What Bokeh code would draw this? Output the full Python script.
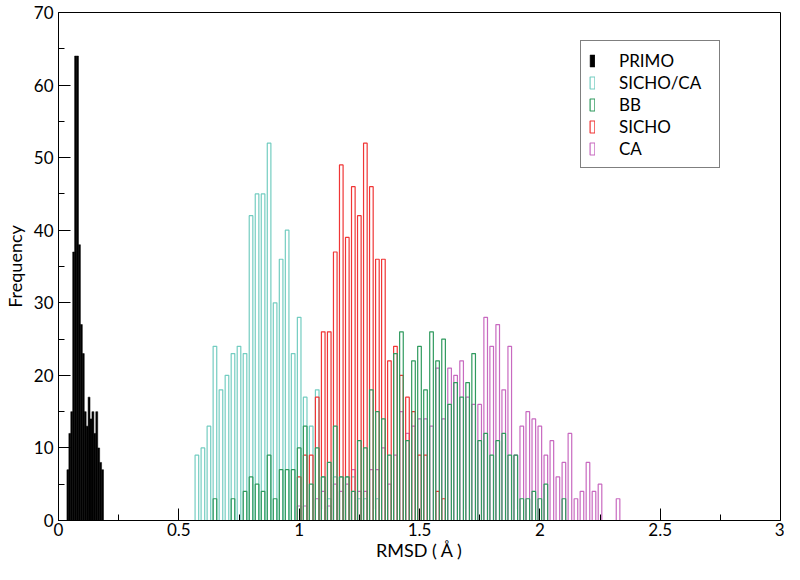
from bokeh.plotting import figure
from bokeh.models import Range1d, Legend, LegendItem, FixedTicker, ColumnDataSource
from bokeh.embed import file_html
from bokeh.resources import INLINE

# ---- data ----
# common bin grid for SICHO/CA, BB, SICHO, CA histograms
bin_start = 0.575   # centre of first bin (RMSD, Angstrom)
bin_width = 0.025

sicho_ca = [9, 10, 13, 24, 18, 20, 23, 24, 23, 42, 45, 45, 52, 30, 36, 40, 23, 28, 17, 13,
            18, 6, 3, 6, 6, 6, 6, 3, 3, 0, 3]
bb = [0, 0, 0, 3, 0, 0, 3, 0, 4, 6, 5, 4, 9, 3, 7, 7, 7, 10, 13, 5,
      10, 6, 8, 13, 6, 6, 4, 11, 10, 18, 15, 14, 9, 23, 26, 11, 22, 24, 18, 26,
      22, 25, 16, 19, 17, 19, 23, 11, 12, 9, 11, 12, 9, 9, 3, 3, 4, 3, 5, 0,
      0, 3]
sicho = [0, 0, 0, 0, 0, 0, 0, 0, 0, 0, 0, 0, 0, 0, 0, 0, 0, 6, 9, 9,
         17, 26, 26, 37, 49, 39, 46, 42, 52, 46, 36, 36, 22, 24, 20, 17, 15, 9, 9, 0,
         4, 3]
ca = [0, 0, 0, 0, 0, 0, 0, 0, 0, 0, 0, 0, 0, 0, 0, 0, 0, 2, 2, 0,
      3, 4, 2, 5, 4, 5, 7, 4, 4, 7, 7, 10, 5, 9, 15, 12, 13, 14, 14, 13,
      21, 14, 21, 20, 22, 17, 16, 16, 28, 24, 27, 18, 24, 9, 13, 15, 14, 13, 9, 11,
      6, 8, 12, 3, 4, 8, 4, 5, 0, 0, 3]

# PRIMO uses its own, finer bins
primo_start = 0.039
primo_width = 0.008
primo = [7, 12, 15, 37, 64, 64, 38, 27, 23, 15, 13, 17, 14, 15, 12, 15, 10, 8, 7]

names = ["PRIMO", "SICHO/CA", "BB", "SICHO", "CA"]
colors = {"PRIMO": "black", "SICHO/CA": "#74cdc1", "BB": "#2f9a5e",
          "SICHO": "#f03535", "CA": "#c86ac0"}

x_ticks = [0, 0.5, 1, 1.5, 2, 2.5, 3]
y_ticks = [0, 10, 20, 30, 40, 50, 60, 70]

FONT = "Lato"

p = figure(width=784, height=564, x_range=Range1d(0, 3), y_range=Range1d(0, 70),
           output_backend="svg", toolbar_location=None,
           min_border_left=56, min_border_right=4, min_border_top=12, min_border_bottom=44)
p.xgrid.visible = False
p.ygrid.visible = False
p.outline_line_color = "black"
p.outline_line_width = 1
p.background_fill_color = "white"
p.border_fill_color = "white"


def hist_source(start, width, counts):
    xs, ys = [], []
    for i, c in enumerate(counts):
        if c > 0:
            xs.append(start + i * width)
            ys.append(c)
    return ColumnDataSource(dict(x=xs, top=ys))


renderers = {}
# draw order: CA, SICHO/CA, SICHO, BB, PRIMO
bar_w = 0.015
lw = 1.2
renderers["CA"] = p.vbar(x="x", top="top", bottom=0, width=bar_w,
                         source=hist_source(bin_start, bin_width, ca),
                         fill_alpha=0, line_color=colors["CA"], line_width=lw)
renderers["SICHO/CA"] = p.vbar(x="x", top="top", bottom=0, width=bar_w,
                               source=hist_source(bin_start, bin_width, sicho_ca),
                               fill_alpha=0, line_color=colors["SICHO/CA"], line_width=lw)
renderers["SICHO"] = p.vbar(x="x", top="top", bottom=0, width=bar_w,
                            source=hist_source(bin_start, bin_width, sicho),
                            fill_alpha=0, line_color=colors["SICHO"], line_width=lw)
renderers["BB"] = p.vbar(x="x", top="top", bottom=0, width=bar_w,
                         source=hist_source(bin_start, bin_width, bb),
                         fill_alpha=0, line_color=colors["BB"], line_width=lw)
renderers["PRIMO"] = p.vbar(x="x", top="top", bottom=0, width=primo_width,
                            source=hist_source(primo_start, primo_width, primo),
                            fill_color="black", line_color="black", line_width=0.5)

# axes
for ax in (p.xaxis[0], p.yaxis[0]):
    ax.axis_line_color = "black"
    ax.major_tick_line_color = "black"
    ax.minor_tick_line_color = "black"
    ax.major_tick_in = 12
    ax.major_tick_out = 0
    ax.minor_tick_in = 6
    ax.minor_tick_out = 0
    ax.major_label_text_font = FONT
    ax.major_label_text_font_size = "17px"
    ax.major_label_text_color = "black"
    ax.axis_label_text_font = FONT
    ax.axis_label_text_font_size = "18px"
    ax.axis_label_text_font_style = "normal"
    ax.axis_label_text_color = "black"
    ax.major_label_standoff = 2
    ax.axis_label_standoff = 0

p.yaxis.major_label_standoff = 5
p.yaxis.axis_label_standoff = 5
p.xaxis.ticker = FixedTicker(ticks=x_ticks, minor_ticks=[0.25, 0.75, 1.25, 1.75, 2.25, 2.75])
p.yaxis.ticker = FixedTicker(ticks=y_ticks, minor_ticks=[5, 15, 25, 35, 45, 55, 65])
p.xaxis.major_label_overrides = {t: f"{t:g}" for t in x_ticks}
p.xaxis.axis_label = "RMSD ( Å )"
p.yaxis.axis_label = "Frequency"

legend = Legend(items=[LegendItem(label=n, renderers=[renderers[n]]) for n in names],
                location=(522, 352), orientation="vertical")
legend.border_line_color = "black"
legend.border_line_width = 1
legend.background_fill_color = "white"
legend.background_fill_alpha = 1
legend.padding = 8
legend.spacing = 0
legend.margin = 0
legend.glyph_width = 6
legend.glyph_height = 15
legend.label_height = 22
legend.label_width = 92
legend.label_standoff = 24
legend.label_text_font = FONT
legend.label_text_font_size = "17px"
legend.label_text_color = "black"
p.add_layout(legend, "center")

open("out.html", "w").write(file_html(p, INLINE))
